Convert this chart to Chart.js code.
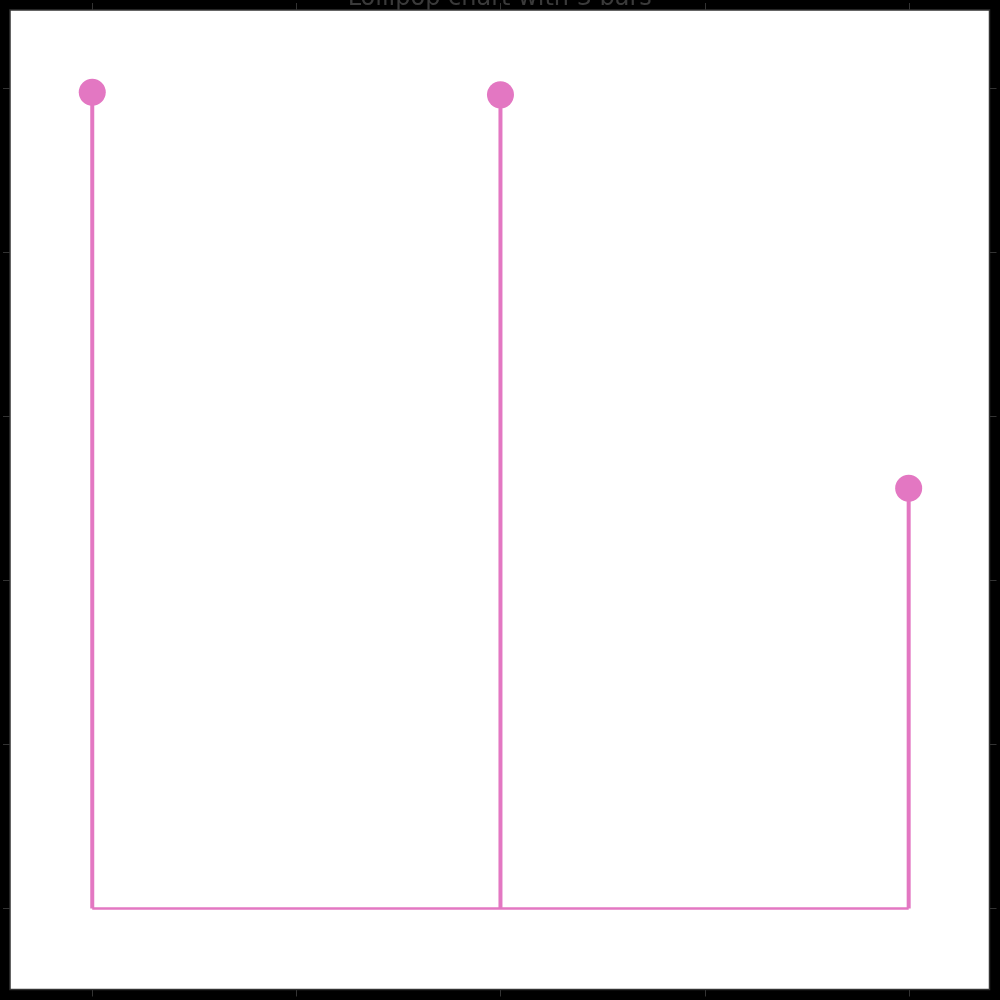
<!DOCTYPE html>
<html>
<head>
<meta charset="utf-8">
<script src="https://cdn.jsdelivr.net/npm/chart.js@4"></script>
<style>
  html, body { margin: 0; padding: 0; background: #000; }
  #wrap { width: 1000px; height: 1000px; }
</style>
</head>
<body>
<div id="wrap"><canvas id="lollipop"></canvas></div>
<script>
// data
const categories = [0, 1, 2];
const values = [4.974, 4.958, 2.561];
const xTicks = [0, 0.5, 1, 1.5, 2];
const yTicks = [0, 1, 2, 3, 4, 5];

const pink = '#e377c2';

// stems: one segment per category, broken with nulls
const stemData = [];
categories.forEach((c, i) => {
    stemData.push({ x: c, y: 0 }, { x: c, y: values[i] }, { x: c, y: null });
});

// --- frame, outward ticks, clipped title ---
const framePlugin = {
    id: 'frame',
    beforeDraw(chart) {
        const { ctx, chartArea: a } = chart;
        ctx.save();
        ctx.fillStyle = '#fff';
        ctx.fillRect(a.left, a.top, a.right - a.left, a.bottom - a.top);
        ctx.restore();
    },
    afterDraw(chart) {
        const { ctx, chartArea: a, scales } = chart;
        const len = 7;
        ctx.save();
        ctx.strokeStyle = '#333';
        ctx.lineWidth = 1.5;
        ctx.strokeRect(a.left, a.top, a.right - a.left, a.bottom - a.top);
        ctx.lineWidth = 1;
        ctx.beginPath();
        xTicks.forEach(t => {
            const px = Math.round(scales.x.getPixelForValue(t)) + 0.5;
            ctx.moveTo(px, a.top); ctx.lineTo(px, a.top - len);
            ctx.moveTo(px, a.bottom); ctx.lineTo(px, a.bottom + len);
        });
        yTicks.forEach(t => {
            const py = Math.round(scales.y.getPixelForValue(t)) + 0.5;
            ctx.moveTo(a.left, py); ctx.lineTo(a.left - len, py);
            ctx.moveTo(a.right, py); ctx.lineTo(a.right + len, py);
        });
        ctx.stroke();

        ctx.fillStyle = '#3a3a3a';
        ctx.font = '24px "DejaVu Sans"';
        ctx.textAlign = 'center';
        ctx.textBaseline = 'alphabetic';
        ctx.fillText('Lollipop chart with 3 bars', (a.left + a.right) / 2, 4.5);
        ctx.restore();
    }
};

const ctx = document.getElementById('lollipop').getContext('2d');
new Chart(ctx, {
    type: 'scatter',
    data: {
        datasets: [
            {
                label: 'heads',
                data: categories.map((c, i) => ({ x: c, y: values[i] })),
                backgroundColor: pink,
                borderWidth: 0,
                pointRadius: 13.5,
                pointHoverRadius: 13.5,
                order: 0
            },
            {
                label: 'stems',
                data: stemData,
                showLine: true,
                spanGaps: false,
                borderColor: pink,
                borderWidth: 4,
                borderCapStyle: 'butt',
                pointRadius: 0,
                order: 1
            },
            {
                label: 'baseline',
                data: [{ x: categories[0], y: 0 }, { x: categories[categories.length - 1], y: 0 }],
                showLine: true,
                borderColor: pink,
                borderWidth: 2.5,
                borderCapStyle: 'butt',
                pointRadius: 0,
                order: 2
            }
        ]
    },
    options: {
        responsive: true,
        maintainAspectRatio: false,
        animation: false,
        layout: { autoPadding: false, padding: { left: 10, right: 10.5, top: 10, bottom: 10.5 } },
        plugins: {
            legend: { display: false },
            tooltip: { enabled: false },
            title: { display: false }
        },
        scales: {
            x: { type: 'linear', min: -0.2015, max: 2.198, display: false },
            y: { type: 'linear', min: -0.494, max: 5.475, display: false }
        }
    },
    plugins: [framePlugin]
});
</script>
</body>
</html>
